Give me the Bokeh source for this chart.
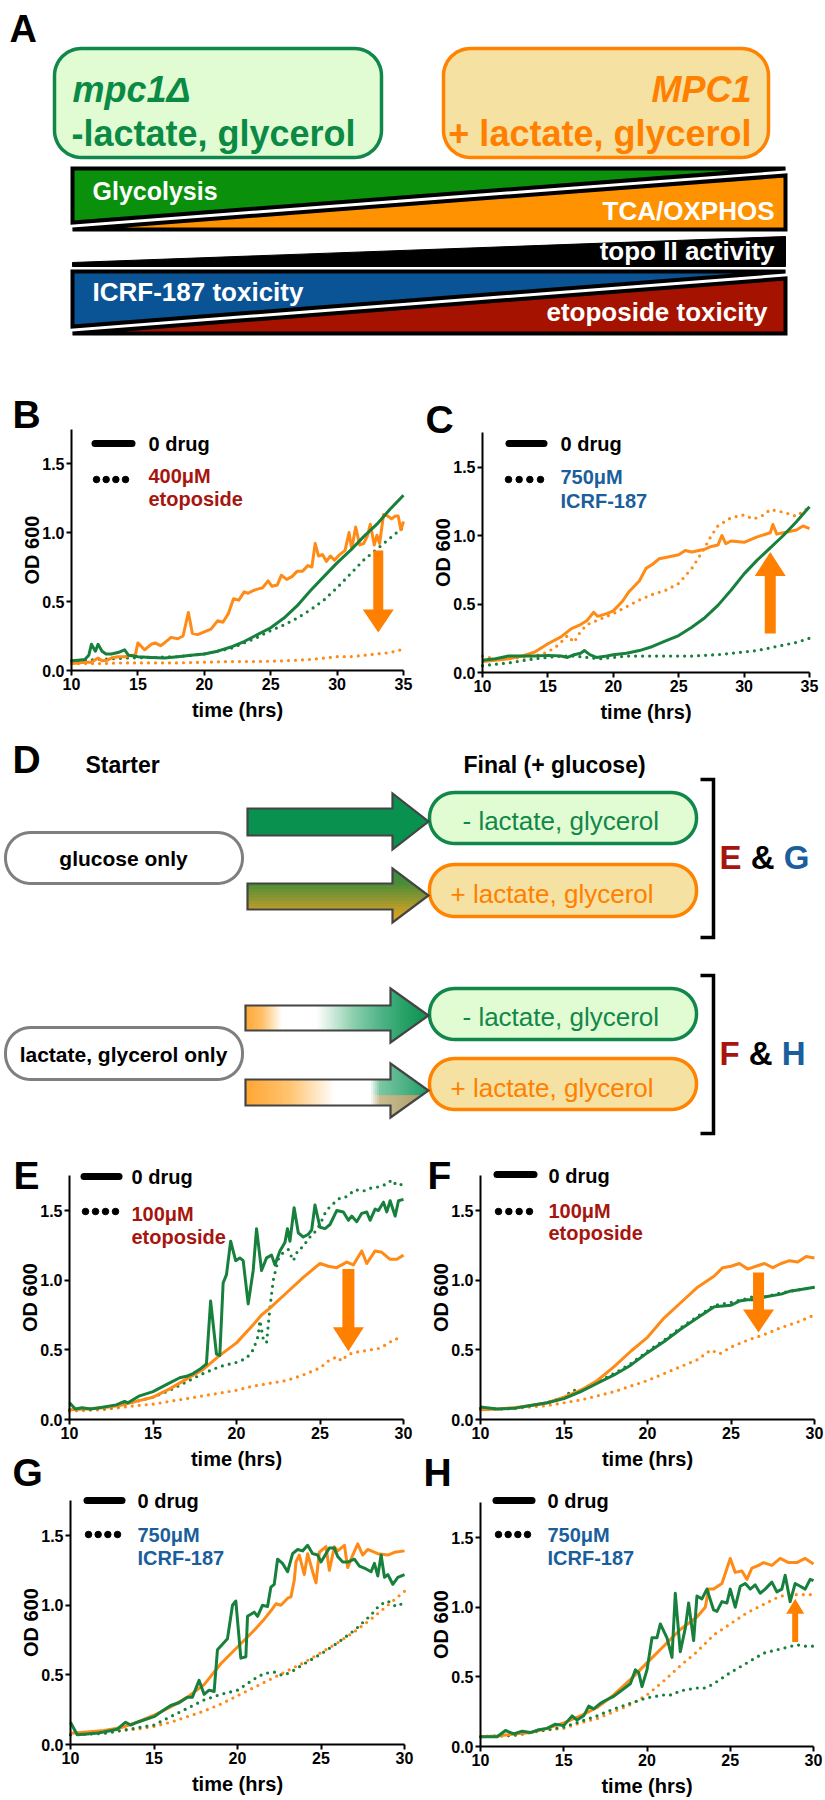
import numpy as np
from bokeh.plotting import figure
from bokeh.models import Range1d, FixedTicker, NumeralTickFormatter, LinearAxis
from bokeh.layouts import column, row
from bokeh.embed import file_html
from bokeh.resources import INLINE
from bokeh.core.properties import value

FONT = "Liberation Sans"
GREEN = "#16803c"
ORANGE = "#ff8a16"
ARROWC = "#ff8000"
DRED = "#a6150e"
DBLUE = "#1a5e9c"
BASE_FIX = 0.33

# ---------------- data (OD600 vs time, hrs) ----------------
# Panel B (400uM etoposide)
B_gs_t = [10, 10.5, 11, 11.3, 11.5, 11.8, 12.0, 12.3, 12.6, 13, 13.5, 14, 14.3, 15, 16, 17, 18, 19, 20, 21, 22, 23, 24, 25, 26, 27, 28, 29, 30, 31, 32, 33, 34, 35]
B_gs_y = [0.07, 0.075, 0.08, 0.11, 0.19, 0.14, 0.19, 0.14, 0.12, 0.12, 0.13, 0.15, 0.11, 0.10, 0.095, 0.09, 0.10, 0.11, 0.12, 0.14, 0.17, 0.21, 0.26, 0.31, 0.38, 0.47, 0.58, 0.68, 0.78, 0.87, 0.97, 1.06, 1.17, 1.27]
B_gd_t = [10, 12, 14, 16, 18, 20, 21, 22, 23, 24, 25, 26, 27, 28, 29, 30, 31, 32, 33, 34, 35]
B_gd_y = [0.07, 0.08, 0.09, 0.095, 0.1, 0.12, 0.14, 0.16, 0.2, 0.24, 0.29, 0.33, 0.38, 0.44, 0.51, 0.60, 0.70, 0.80, 0.88, 0.96, 1.04]
B_os_t = [10, 10.5, 11, 11.5, 12, 12.3, 12.7, 13, 13.5, 14, 14.5, 14.8, 15.0, 15.5, 16.0, 16.3, 16.7, 17.0, 17.5, 18.0, 18.4, 18.8, 19.1, 19.5, 20.0, 20.5, 21.0, 21.4, 21.8, 22.2, 22.6, 23.0, 23.3, 23.7, 24.0, 24.4, 24.8, 25.1, 25.5, 25.8, 26.2, 26.6, 27.0, 27.4, 27.8, 28.1, 28.35, 28.6, 28.9, 29.2, 29.5, 29.8, 30.2, 30.6, 30.9, 31.1, 31.4, 31.7, 32.0, 32.3, 32.5, 32.8, 33.0, 33.2, 33.5, 33.8, 34.1, 34.4, 34.6, 34.8, 35.0]
B_os_y = [0.05, 0.055, 0.06, 0.06, 0.09, 0.07, 0.075, 0.09, 0.1, 0.1, 0.11, 0.11, 0.2, 0.15, 0.19, 0.2, 0.18, 0.2, 0.24, 0.23, 0.25, 0.42, 0.27, 0.26, 0.28, 0.3, 0.36, 0.35, 0.41, 0.52, 0.51, 0.57, 0.56, 0.58, 0.59, 0.6, 0.65, 0.61, 0.62, 0.69, 0.66, 0.68, 0.72, 0.72, 0.76, 0.75, 0.92, 0.83, 0.84, 0.79, 0.83, 0.80, 0.84, 0.87, 1.0, 0.88, 1.04, 0.91, 0.92, 0.98, 1.06, 0.91, 0.98, 0.92, 1.13, 1.12, 1.10, 1.12, 1.12, 1.02, 1.08]
B_od_t = [10, 12, 14, 16, 18, 20, 22, 24, 26, 27, 28, 29, 30, 31, 32, 33, 34, 35]
B_od_y = [0.05, 0.05, 0.055, 0.055, 0.055, 0.06, 0.065, 0.065, 0.07, 0.075, 0.08, 0.09, 0.1, 0.1, 0.11, 0.12, 0.13, 0.155]

# Panel C (750uM ICRF-187)
C_gs_t = [10, 11, 12, 13, 14, 15, 16, 16.5, 17, 17.5, 17.8, 18.2, 18.7, 19.5, 20, 21, 22, 23, 24, 25, 26, 27, 28, 29, 30, 31, 32, 33, 34, 35]
C_gs_y = [0.09, 0.1, 0.12, 0.12, 0.12, 0.125, 0.12, 0.11, 0.13, 0.14, 0.16, 0.13, 0.11, 0.12, 0.13, 0.14, 0.16, 0.19, 0.23, 0.27, 0.33, 0.40, 0.49, 0.60, 0.72, 0.82, 0.91, 1.0, 1.1, 1.21]
C_gd_t = [10, 11, 12, 13, 14, 15, 16, 17, 18, 19, 20, 21, 22, 24, 26, 28, 30, 31, 32, 33, 34, 35]
C_gd_y = [0.05, 0.06, 0.07, 0.085, 0.1, 0.11, 0.12, 0.12, 0.11, 0.1, 0.11, 0.12, 0.12, 0.12, 0.12, 0.13, 0.15, 0.16, 0.18, 0.2, 0.22, 0.25]
C_os_t = [10, 11, 12, 13, 14, 15, 16, 16.8, 17.5, 18, 18.5, 18.8, 19.5, 20, 20.7, 21.2, 22, 22.5, 23, 23.5, 24, 25, 25.5, 26, 27, 27.5, 28, 28.3, 28.6, 29, 30, 31, 32, 32.2, 32.5, 33, 34, 34.5, 35]
C_os_y = [0.08, 0.09, 0.1, 0.12, 0.15, 0.21, 0.26, 0.32, 0.35, 0.38, 0.44, 0.41, 0.43, 0.45, 0.52, 0.59, 0.67, 0.76, 0.79, 0.83, 0.84, 0.86, 0.89, 0.88, 0.9, 0.92, 0.93, 1.0, 0.94, 0.96, 0.95, 0.99, 1.02, 1.08, 1.01, 1.02, 1.04, 1.07, 1.05]
C_od_t = [10, 11, 12, 13, 14, 15, 15.8, 16.5, 17, 17.5, 18, 19, 20, 21, 22, 23, 24, 25, 26, 26.8, 27.5, 28, 29, 30, 30.7, 31.5, 32, 33, 34, 35]
C_od_y = [0.12, 0.1, 0.1, 0.11, 0.12, 0.15, 0.2, 0.27, 0.22, 0.3, 0.35, 0.39, 0.43, 0.48, 0.53, 0.57, 0.6, 0.65, 0.76, 0.88, 1.0, 1.07, 1.13, 1.15, 1.12, 1.15, 1.19, 1.17, 1.14, 1.21]

# Panel E (100uM etoposide, glucose-only starter)
E_gs_t = [10, 10.35, 10.75, 11.25, 11.8, 12.8, 13.3, 13.5, 14.2, 15, 15.8, 16.6, 17, 17.4, 17.8, 18.2, 18.45, 18.8, 19.0, 19.2, 19.4, 19.65, 19.95, 20.2, 20.4, 20.7, 21.0, 21.2, 21.5, 21.8, 22.1, 22.3, 22.6, 22.9, 23.05, 23.2, 23.45, 23.7, 24.0, 24.3, 24.5, 24.7, 25.0, 25.3, 25.6, 26.0, 26.4, 26.7, 26.9, 27.2, 27.5, 27.8, 28.0, 28.3, 28.5, 28.8, 29.0, 29.2, 29.5, 29.7, 30.0]
E_gs_y = [0.12, 0.075, 0.085, 0.075, 0.085, 0.105, 0.13, 0.12, 0.17, 0.2, 0.25, 0.3, 0.31, 0.33, 0.36, 0.4, 0.85, 0.47, 0.46, 0.98, 1.04, 1.28, 1.14, 1.16, 1.14, 0.83, 1.07, 1.37, 1.07, 1.16, 1.18, 1.11, 1.21, 1.27, 1.37, 1.28, 1.52, 1.34, 1.31, 1.33, 1.36, 1.54, 1.38, 1.37, 1.40, 1.5, 1.49, 1.43, 1.46, 1.42, 1.48, 1.49, 1.43, 1.51, 1.50, 1.56, 1.49, 1.57, 1.46, 1.57, 1.58]
E_gd_t = [10, 11, 12, 13, 14, 15, 16, 17, 18, 19, 20, 20.6, 21.0, 21.3, 21.4, 21.6, 21.8, 22.0, 22.2, 22.5, 22.8, 23.1, 23.4, 23.7, 24.0, 24.3, 24.6, 25.0, 25.3, 25.6, 26.2, 26.6, 27.1, 27.6, 28.0, 28.5, 29.0, 29.3, 29.6, 30]
E_gd_y = [0.07, 0.075, 0.08, 0.1, 0.13, 0.16, 0.21, 0.27, 0.33, 0.38, 0.41, 0.44, 0.5, 0.6, 0.71, 0.58, 0.55, 0.8, 1.0, 1.15, 1.2, 1.22, 1.14, 1.22, 1.24, 1.3, 1.33, 1.4, 1.48, 1.53, 1.59, 1.6, 1.65, 1.64, 1.66, 1.67, 1.69, 1.72, 1.68, 1.69]
E_os_t = [10, 11, 12, 13, 14, 15, 16, 17, 18, 19, 20, 21, 21.5, 22, 23, 24, 25, 25.5, 26, 26.6, 27, 27.3, 27.5, 27.8, 28.3, 28.7, 29.2, 29.6, 30]
E_os_y = [0.07, 0.075, 0.085, 0.1, 0.13, 0.16, 0.22, 0.29, 0.36, 0.46, 0.55, 0.68, 0.75, 0.8, 0.91, 1.02, 1.12, 1.1, 1.09, 1.13, 1.11, 1.17, 1.21, 1.12, 1.21, 1.2, 1.15, 1.15, 1.18]
E_od_t = [10, 12, 13, 14, 15, 16, 17, 18, 19, 20, 21, 22, 23, 24, 25, 25.5, 26, 26.3, 26.6, 27, 28, 28.5, 29, 29.5, 30]
E_od_y = [0.06, 0.07, 0.085, 0.1, 0.11, 0.13, 0.15, 0.17, 0.19, 0.21, 0.24, 0.26, 0.28, 0.32, 0.37, 0.42, 0.45, 0.42, 0.46, 0.48, 0.5, 0.51, 0.54, 0.58, 0.57]

# Panel F (100uM etoposide, lactate/glycerol starter)
F_os_t = [10, 11, 12, 13, 14, 15, 16, 17, 18, 19, 20, 21, 22, 23, 24, 24.5, 25, 25.5, 26, 26.5, 27, 27.5, 28, 28.5, 29, 29.5, 30]
F_os_y = [0.07, 0.075, 0.085, 0.1, 0.12, 0.16, 0.21, 0.28, 0.38, 0.49, 0.59, 0.73, 0.84, 0.95, 1.03, 1.09, 1.1, 1.12, 1.08, 1.1, 1.12, 1.09, 1.12, 1.14, 1.13, 1.17, 1.16]
F_gs_t = [10, 11, 12, 13, 14, 15, 16, 17, 18, 19, 20, 21, 22, 23, 24, 25, 25.5, 26, 26.5, 27, 28, 28.5, 29, 30]
F_gs_y = [0.09, 0.075, 0.08, 0.1, 0.12, 0.15, 0.2, 0.26, 0.32, 0.39, 0.48, 0.56, 0.65, 0.73, 0.81, 0.82, 0.85, 0.86, 0.86, 0.88, 0.9, 0.92, 0.93, 0.95]
F_gd_t = [10, 11, 12, 13, 14, 15, 15.5, 16, 17, 18, 19, 20, 21, 22, 23, 24, 25, 26, 26.5, 27, 28, 29, 30]
F_gd_y = [0.08, 0.075, 0.08, 0.1, 0.12, 0.16, 0.21, 0.21, 0.27, 0.33, 0.4, 0.49, 0.57, 0.66, 0.74, 0.82, 0.84, 0.87, 0.89, 0.88, 0.91, 0.93, 0.95]
F_od_t = [10, 12, 14, 15, 16, 17, 18, 19, 20, 21, 22, 23, 23.8, 24.3, 25, 26, 27, 28, 29, 30]
F_od_y = [0.07, 0.08, 0.1, 0.12, 0.14, 0.17, 0.2, 0.24, 0.28, 0.33, 0.38, 0.43, 0.5, 0.47, 0.52, 0.57, 0.61, 0.66, 0.7, 0.75]

# Panel G (750uM ICRF-187, glucose-only starter)
G_os_t = [10, 11, 12, 13, 14, 15, 16, 17, 18, 19, 20, 21, 21.6, 22, 22.3, 22.6, 23.0, 23.2, 23.4, 23.5, 23.7, 24.0, 24.2, 24.5, 24.7, 24.9, 25.3, 25.5, 25.8, 26.0, 26.4, 26.6, 26.9, 27.2, 27.5, 27.8, 28.4, 29.0, 29.4, 30.0]
G_os_y = [0.08, 0.09, 0.1, 0.12, 0.16, 0.21, 0.27, 0.34, 0.43, 0.58, 0.7, 0.82, 0.9, 0.96, 1.01, 1.0, 1.05, 1.06, 1.18, 1.31, 1.36, 1.22, 1.37, 1.24, 1.16, 1.38, 1.42, 1.25, 1.42, 1.39, 1.43, 1.27, 1.36, 1.44, 1.36, 1.40, 1.37, 1.36, 1.38, 1.39]
G_gs_t = [10, 10.4, 11, 11.5, 12, 12.8, 13.3, 13.6, 14, 15, 15.5, 16, 16.5, 17, 17.3, 17.7, 18, 18.3, 18.6, 18.8, 19.1, 19.4, 19.7, 19.9, 20.2, 20.5, 20.6, 21.0, 21.2, 21.5, 21.8, 22.0, 22.2, 22.4, 22.7, 23.0, 23.3, 23.6, 23.9, 24.2, 24.5, 24.8, 25.0, 25.2, 25.5, 25.8, 26.0, 26.3, 26.6, 27.0, 27.3, 27.7, 28.0, 28.2, 28.4, 28.6, 28.8, 29.0, 29.3, 29.6, 30.0]
G_gs_y = [0.16, 0.07, 0.075, 0.08, 0.09, 0.11, 0.16, 0.14, 0.16, 0.2, 0.24, 0.28, 0.3, 0.34, 0.34, 0.46, 0.36, 0.39, 0.38, 0.68, 0.72, 0.76, 1.0, 1.03, 0.62, 0.63, 0.92, 0.95, 0.92, 1.0, 0.99, 1.13, 1.15, 1.33, 1.3, 1.24, 1.37, 1.4, 1.39, 1.43, 1.37, 1.36, 1.31, 1.35, 1.41, 1.41, 1.35, 1.31, 1.31, 1.33, 1.28, 1.26, 1.24, 1.3, 1.21, 1.36, 1.2, 1.22, 1.15, 1.2, 1.22]
G_gd_t = [10, 11, 12, 13, 14, 15, 16, 17, 18, 19, 20, 21, 21.6, 22.2, 22.7, 23.2, 24, 25, 26, 27, 28, 28.5, 29, 29.5, 30]
G_gd_y = [0.07, 0.075, 0.08, 0.1, 0.12, 0.14, 0.2, 0.26, 0.32, 0.36, 0.39, 0.47, 0.51, 0.52, 0.495, 0.52, 0.58, 0.65, 0.73, 0.82, 0.93, 1.0, 1.03, 0.99, 1.02]
G_od_t = [10, 12, 13, 14, 15, 16, 17, 18, 19, 20, 21, 22, 23, 24, 25, 26, 27, 28, 29, 30]
G_od_y = [0.07, 0.08, 0.1, 0.11, 0.13, 0.16, 0.2, 0.24, 0.29, 0.35, 0.41, 0.47, 0.53, 0.59, 0.66, 0.73, 0.81, 0.9, 1.0, 1.1]

# Panel H (750uM ICRF-187, lactate/glycerol starter)
H_os_t = [10, 11, 12, 13, 14, 15, 16, 17, 18, 19, 20, 21, 22, 23, 23.5, 23.7, 24, 24.5, 25, 25.3, 25.7, 26, 26.3, 26.7, 27, 27.5, 28, 28.5, 29, 29.5, 30]
H_os_y = [0.07, 0.075, 0.09, 0.1, 0.13, 0.17, 0.22, 0.28, 0.37, 0.48, 0.6, 0.72, 0.84, 0.93, 1.0, 1.13, 1.13, 1.17, 1.35, 1.25, 1.26, 1.2, 1.28, 1.3, 1.32, 1.3, 1.35, 1.32, 1.32, 1.35, 1.31]
H_gs_t = [10, 11, 11.5, 12, 12.5, 13, 13.5, 14, 14.5, 15, 15.5, 15.8, 16.2, 16.5, 16.8, 17.2, 17.5, 18, 19, 19.3, 19.5, 19.7, 20, 20.3, 20.6, 20.8, 21.2, 21.5, 21.7, 22, 22.3, 22.5, 22.8, 23, 23.3, 23.6, 24, 24.2, 24.5, 24.8, 25, 25.3, 25.6, 25.9, 26.2, 26.5, 26.8, 27.1, 27.5, 27.8, 28.1, 28.3, 28.6, 28.9, 29.2, 29.5, 29.8, 30]
H_gs_y = [0.07, 0.07, 0.115, 0.09, 0.11, 0.1, 0.12, 0.13, 0.16, 0.15, 0.22, 0.19, 0.22, 0.29, 0.27, 0.31, 0.33, 0.36, 0.45, 0.55, 0.53, 0.43, 0.55, 0.78, 0.78, 0.88, 0.78, 0.64, 1.1, 0.68, 0.85, 1.03, 0.76, 1.08, 1.06, 1.13, 0.98, 0.97, 1.04, 1.03, 1.13, 1.0, 1.15, 1.17, 1.13, 1.16, 1.1, 1.13, 1.18, 1.11, 1.13, 1.23, 1.04, 1.17, 1.15, 1.13, 1.2, 1.19]
H_gd_t = [10, 12, 13, 14, 15, 16, 17, 18, 19, 20, 20.5, 21, 21.5, 22, 22.5, 23, 23.5, 24, 25, 26, 27, 28, 29, 29.5, 30]
H_gd_y = [0.07, 0.08, 0.1, 0.12, 0.14, 0.18, 0.22, 0.27, 0.31, 0.35, 0.36, 0.37, 0.37, 0.4, 0.41, 0.42, 0.42, 0.45, 0.53, 0.6, 0.67, 0.7, 0.73, 0.72, 0.72]
H_od_t = [10, 12, 13, 14, 15, 16, 17, 18, 19, 20, 21, 22, 23, 24, 25, 26, 27, 28, 29, 30]
H_od_y = [0.07, 0.08, 0.1, 0.12, 0.13, 0.17, 0.2, 0.25, 0.3, 0.37, 0.47, 0.58, 0.68, 0.8, 0.88, 0.96, 1.02, 1.08, 1.09, 1.09]

Y_TICKS = [0, 0.5, 1.0, 1.5]
X_TICKS_35 = [10, 15, 20, 25, 30, 35]
X_TICKS_30 = [10, 15, 20, 25, 30]

# arrows: (x, tail, tip) in data units
B_arrow = (33.1, 0.87, 0.275)
C_arrow = (32.0, 0.285, 0.88)
E_arrow = (26.7, 1.08, 0.49)
F_arrow = (26.65, 1.055, 0.625)
H_arrow = (28.9, 0.75, 1.06)


# ---------------- helpers ----------------
def txt_raw(p, x, y, s, size, color="black", style="bold", align="left", font=FONT):
    p.text(x=[x], y=[y], text=[s], text_font=value(font), text_font_size=f"{size}px",
           text_font_style=style, text_color=color, text_align=align, text_baseline="alphabetic")


def txt(p, x, y, s, size, **kw):
    # canvas figures: y grows downward; y is the desired baseline
    txt_raw(p, x, y - BASE_FIX * size, s, size, **kw)


def canvas(w, h, top, left=0):
    p = figure(width=w, height=h, x_range=Range1d(left, left + w), y_range=Range1d(top + h, top),
               x_axis_type=None, y_axis_type=None, output_backend="svg", toolbar_location=None,
               tools="", title=None, min_border=0)
    p.outline_line_color = None
    return p


def rrect(x0, y0, x1, y1, r, n=14):
    xs, ys = [], []
    corners = [(x1 - r, y0 + r, -90, 0), (x1 - r, y1 - r, 0, 90),
               (x0 + r, y1 - r, 90, 180), (x0 + r, y0 + r, 180, 270)]
    for cx, cy, a0, a1 in corners:
        for a in np.linspace(np.radians(a0), np.radians(a1), n):
            xs.append(float(cx + r * np.cos(a)))
            ys.append(float(cy + r * np.sin(a)))
    return xs, ys


def hex2rgb(h):
    return tuple(int(h[i:i + 2], 16) for i in (1, 3, 5))


def interp(stops, v):
    if v <= stops[0][0]:
        return stops[0][1]
    for (p0, c0), (p1, c1) in zip(stops[:-1], stops[1:]):
        if v <= p1:
            f = (v - p0) / (p1 - p0)
            a, b = hex2rgb(c0), hex2rgb(c1)
            return "#%02x%02x%02x" % tuple(int(round(a[i] + f * (b[i] - a[i]))) for i in range(3))
    return stops[-1][1]


def clip(poly, xmin, xmax, ymin, ymax):
    def edge(pts, inside, inter):
        out = []
        for i in range(len(pts)):
            cur, prev = pts[i], pts[i - 1]
            if inside(cur):
                if not inside(prev):
                    out.append(inter(prev, cur))
                out.append(cur)
            elif inside(prev):
                out.append(inter(prev, cur))
        return out

    def ix(p, q, x):
        t = (x - p[0]) / (q[0] - p[0])
        return (x, p[1] + t * (q[1] - p[1]))

    def iy(p, q, y):
        t = (y - p[1]) / (q[1] - p[1])
        return (p[0] + t * (q[0] - p[0]), y)

    pts = list(poly)
    for inside, inter in [(lambda p: p[0] >= xmin, lambda p, q: ix(p, q, xmin)),
                          (lambda p: p[0] <= xmax, lambda p, q: ix(p, q, xmax)),
                          (lambda p: p[1] >= ymin, lambda p, q: iy(p, q, ymin)),
                          (lambda p: p[1] <= ymax, lambda p, q: iy(p, q, ymax))]:
        if not pts:
            break
        pts = edge(pts, inside, inter)
    return pts


def arrow_poly(x0, xh, xt, yb0, yb1, yh0, yh1):
    yc = (yh0 + yh1) / 2
    return [(x0, yb0), (xh, yb0), (xh, yh0), (xt, yc), (xh, yh1), (xh, yb1), (x0, yb1)]


def grad_arrow(p, poly, colfun, xstep, ybands):
    xs_all, ys_all, cols = [], [], []
    xmin = min(q[0] for q in poly)
    xmax = max(q[0] for q in poly)
    xa = xmin
    while xa < xmax:
        xb = min(xa + xstep, xmax)
        for ya, yb in ybands:
            c = clip(poly, xa, xb, ya, yb)
            if len(c) >= 3:
                xs_all.append([float(q[0]) for q in c])
                ys_all.append([float(q[1]) for q in c])
                cols.append(colfun((xa + xb) / 2, (ya + yb) / 2))
        xa = xb
    p.patches(xs_all, ys_all, fill_color=cols, line_color=cols, line_width=0.8)
    p.patch([float(q[0]) for q in poly], [float(q[1]) for q in poly], fill_color=None,
            line_color="#444444", line_width=2.2, line_join="miter")


# ---------------- Panel A ----------------
pA = canvas(825, 380, 0)
txt(pA, 9, 41, "A", 38)
gx, gy = rrect(54, 48, 381, 157, 27)
pA.patch(gx, gy, fill_color="#e1fcd2", line_color="#11874b", line_width=3.5)
ox, oy = rrect(443, 48, 768, 157, 27)
pA.patch(ox, oy, fill_color="#f5e1a1", line_color="#ff8200", line_width=3.5)
txt(pA, 72, 101, "mpc1\u0394", 36, color="#0b8a45", style="bold italic")
txt(pA, 71, 145, "-lactate, glycerol", 36, color="#0b8a45")
txt(pA, 751, 101, "MPC1", 36, color="#ff8000", style="bold italic", align="right")
txt(pA, 751, 145, "+ lactate, glycerol", 36, color="#ff8000", align="right")

BX0, BX1 = 72, 785


def band(p, t, b, c_up, c_low):
    p.patch([BX0, BX1, BX0], [t, t, b - 7], fill_color=c_up, line_color="black", line_width=4, line_join="miter")
    p.patch([BX1, BX1, BX0], [t + 7, b, b], fill_color=c_low, line_color="black", line_width=4, line_join="miter")


band(pA, 168, 229, "#0a900a", "#ff9200")
pA.patch([BX0, BX1, BX1, BX0], [262, 236, 266, 266], fill_color="black", line_color="black", line_width=1)
band(pA, 271, 333, "#0a5394", "#a51300")
txt(pA, 92, 199, "Glycolysis", 25, color="white")
txt(pA, 774, 219, "TCA/OXPHOS", 26, color="white", align="right")
txt(pA, 774, 259, "topo II activity", 26, color="white", align="right")
txt(pA, 92, 300, "ICRF-187 toxicity", 26, color="white")
txt(pA, 767, 320, "etoposide toxicity", 26, color="white", align="right")


# ---------------- chart helper ----------------
class Chart:
    def __init__(self, w, h, fig_left, fig_top, ax0, ax1, xmax, y0, ppu, xticks):
        self.ax0, self.y0, self.ppu = ax0, y0, ppu
        self.ppx = (ax1 - ax0) / (xmax - 10)
        p = figure(width=w, height=h,
                   x_range=Range1d(self.X(fig_left), self.X(fig_left + w)),
                   y_range=Range1d(self.Y(fig_top + h), self.Y(fig_top)),
                   x_axis_location=None, y_axis_location=None, min_border=0,
                   output_backend="svg", toolbar_location=None, tools="", title=None)
        p.grid.visible = False
        p.outline_line_color = None
        yax = LinearAxis(fixed_location=10, bounds=(0, 1.75), ticker=FixedTicker(ticks=Y_TICKS),
                         formatter=NumeralTickFormatter(format="0.0"), axis_label="OD 600")
        xax = LinearAxis(fixed_location=0, bounds=(10, xmax), ticker=FixedTicker(ticks=xticks),
                         axis_label="time (hrs)")
        for ax in (xax, yax):
            ax.axis_line_width = 2
            ax.major_tick_line_width = 2
            ax.major_tick_out = 5
            ax.major_tick_in = 0
            ax.minor_tick_line_color = None
            ax.major_label_text_font = FONT
            ax.major_label_text_font_style = "bold"
            ax.major_label_text_font_size = "16px"
            ax.major_label_text_color = "black"
            ax.axis_label_text_font = FONT
            ax.axis_label_text_font_style = "bold"
            ax.axis_label_text_font_size = "20px"
            ax.axis_label_text_color = "black"
            ax.major_label_standoff = 2
        xax.axis_label_standoff = 6
        yax.axis_label_standoff = -4
        p.add_layout(yax, "left")
        p.add_layout(xax, "below")
        self.p = p

    def X(self, px):
        return 10 + (px - self.ax0) / self.ppx

    def Y(self, py):
        return (self.y0 - py) / self.ppu

    def text(self, px, py, s, size, **kw):
        txt_raw(self.p, self.X(px), self.Y(py - BASE_FIX * size), s, size, **kw)

    def series(self, os_, od_, gs_, gd_):
        p = self.p
        p.line(od_[0], od_[1], line_width=3.2, line_dash="0 7", line_cap="round", color=ORANGE)
        p.line(gd_[0], gd_[1], line_width=3.2, line_dash="0 7", line_cap="round", color=GREEN)
        p.line(os_[0], os_[1], line_width=3, line_join="round", color=ORANGE)
        p.line(gs_[0], gs_[1], line_width=3, line_join="round", color=GREEN)

    def legend(self, lx0, lx1, ly, tx, b0, dx0, dx1, dy, drug, dcol, b1, b2):
        X, Y, p = self.X, self.Y, self.p
        p.line([X(lx0 + 3.5), X(lx1 - 3.5)], [Y(ly), Y(ly)], line_width=7, line_cap="round", color="black")
        d = np.linspace(dx0 + 3, dx1 - 3, 4)
        p.scatter([X(v) for v in d], [Y(dy)] * 4, size=6.5, color="black")
        self.text(tx, b0, "0 drug", 20)
        self.text(tx, b1, drug[0], 20, color=dcol)
        self.text(tx, b2, drug[1], 20, color=dcol)

    def arrow(self, a, shaft_w, head_w, head_len):
        x, tail, tip = a
        d = 1 if tip > tail else -1
        hb = tip - d * head_len / self.ppu
        hw = shaft_w / 2 / self.ppx
        hh = head_w / 2 / self.ppx
        self.p.patch([x - hw, x - hw, x - hh, x, x + hh, x + hw, x + hw],
                     [tail, hb, hb, tip, hb, hb, tail], fill_color=ARROWC, line_color=None)

    def letter(self, px, py, s):
        self.text(px, py, s, 39)


# ---------------- B / C ----------------
cB = Chart(423, 362, 0, 380, 71, 403, 35, 670, 138, X_TICKS_35)
cB.series((B_os_t, B_os_y), (B_od_t, B_od_y), (B_gs_t, B_gs_y), (B_gd_t, B_gd_y))
cB.legend(91, 135, 443, 148, 450, 93, 128, 479, ("400\u03bcM", "etoposide"), DRED, 482, 505)
cB.arrow(B_arrow, 10, 31, 23)
cB.letter(12, 427, "B")

cC = Chart(402, 362, 423, 380, 482, 809, 35, 672, 137, X_TICKS_35)
cC.series((C_os_t, C_os_y), (C_od_t, C_od_y), (C_gs_t, C_gs_y), (C_gd_t, C_gd_y))
cC.legend(505, 547, 443, 560, 450, 505, 543, 479, ("750\u03bcM", "ICRF-187"), DBLUE, 483, 507)
cC.arrow(C_arrow, 11, 31, 24)
cC.letter(425, 432, "C")

# ---------------- Panel D ----------------
pD = canvas(825, 408, 742)
txt(pD, 12, 772, "D", 39)
txt(pD, 85, 772, "Starter", 23)
txt(pD, 463, 772, "Final (+ glucose)", 23)
for (y0, y1, s, base) in [(832, 883, "glucose only", 865), (1027, 1079, "lactate, glycerol only", 1061)]:
    xs, ys = rrect(5, y0, 242, y1, 25)
    pD.patch(xs, ys, fill_color="white", line_color="#7f7f7f", line_width=3)
    txt(pD, 123, base, s, 21, align="center")
for (y0, y1, kind, base) in [(792, 843, "g", 829), (864, 916, "o", 902), (988, 1039, "g", 1025), (1058, 1109, "o", 1096)]:
    xs, ys = rrect(429, y0, 696, y1, 25)
    if kind == "g":
        pD.patch(xs, ys, fill_color="#e1fcd2", line_color="#11874b", line_width=3.5)
        txt(pD, 462, base, "- lactate, glycerol", 26, color="#11874b", style="normal")
    else:
        pD.patch(xs, ys, fill_color="#f5e1a1", line_color="#ff8200", line_width=3.5)
        txt(pD, 450, base, "+ lactate, glycerol", 26, color="#ff7f00", style="normal")

a1 = arrow_poly(247, 392, 428, 808, 835, 793, 849)
pD.patch([q[0] for q in a1], [q[1] for q in a1], fill_color="#08914f", line_color="#444444", line_width=2.2, line_join="miter")

a2 = arrow_poly(247, 392, 428, 883, 909, 868, 922)
stops2 = [(868, "#2f8f45"), (883, "#4a8c38"), (909, "#bb9d2a"), (922, "#e6a51f")]
grad_arrow(pD, a2, lambda x, y: interp(stops2, y), 200, [(y, y + 1.5) for y in np.arange(868, 922, 1.5)])

a3 = arrow_poly(245, 390, 428, 1005, 1030, 988, 1042)
stops3 = [(245, "#ffa735"), (262, "#ffbf66"), (282, "#ffffff"), (316, "#ffffff"), (332, "#cfeadc"),
          (352, "#8fd0b0"), (380, "#4fb487"), (405, "#25a066"), (428, "#0b9150")]
grad_arrow(pD, a3, lambda x, y: interp(stops3, x), 2, [(985, 1045)])

a4 = arrow_poly(245, 390, 428, 1079, 1105, 1063, 1117)
stops4 = [(245, "#ffa530"), (290, "#ffc471"), (335, "#ffffff"), (370, "#ffffff"), (380, "#7cc6a2"), (428, "#1f9d68")]
stops4b = [(370, "#ffffff"), (380, "#c9bc90"), (428, "#a89a62")]


def col4(x, y):
    if y > 1095 and x > 370:
        return interp(stops4b, x)
    return interp(stops4, x)


grad_arrow(pD, a4, col4, 2, [(1060, 1095), (1095, 1120)])

for yt, yb in [(779, 937), (975, 1133)]:
    pD.line([700, 713, 713, 700], [yt, yt, yb, yb], line_width=3.5, color="black", line_join="miter")

for base, l1, l2 in [(868, "E", "G"), (1064, "F", "H")]:
    w1 = (0.667 if l1 == "E" else 0.611) * 33
    txt(pD, 719, base, l1, 33, color=DRED)
    xa = 719 + w1 + 0.278 * 33
    txt(pD, xa, base, "&", 33)
    txt(pD, xa + 0.722 * 33 + 0.278 * 33, base, l2, 33, color=DBLUE)

# ---------------- E / F ----------------
cE = Chart(421, 338, 0, 1150, 69, 403, 30, 1419, 139.3, X_TICKS_30)
cE.series((E_os_t, E_os_y), (E_od_t, E_od_y), (E_gs_t, E_gs_y), (E_gd_t, E_gd_y))
cE.legend(80, 122, 1176, 131, 1183, 82, 118, 1211, ("100\u03bcM", "etoposide"), DRED, 1220, 1243)
cE.arrow(E_arrow, 12, 31, 24)
cE.letter(13, 1188, "E")
cE.letter(12, 1485, "G")

cF = Chart(404, 338, 421, 1150, 480, 814, 30, 1419, 139.3, X_TICKS_30)
cF.series((F_os_t, F_os_y), (F_od_t, F_od_y), (F_gs_t, F_gs_y), (F_gd_t, F_gd_y))
cF.legend(493, 537, 1174, 548, 1182, 495, 532, 1211, ("100\u03bcM", "etoposide"), DRED, 1217, 1239)
cF.arrow(F_arrow, 11, 31, 23)
cF.letter(427, 1188, "F")
cF.letter(423, 1485, "H")

# ---------------- G / H ----------------
cG = Chart(421, 312, 0, 1488, 70, 404, 30, 1744, 139.3, X_TICKS_30)
cG.series((G_os_t, G_os_y), (G_od_t, G_od_y), (G_gs_t, G_gs_y), (G_gd_t, G_gd_y))
cG.legend(83, 125, 1500, 137, 1507, 85, 120, 1534, ("750\u03bcM", "ICRF-187"), DBLUE, 1541, 1564)

cH = Chart(404, 312, 421, 1488, 480, 813, 30, 1746, 139.3, X_TICKS_30)
cH.series((H_os_t, H_os_y), (H_od_t, H_od_y), (H_gs_t, H_gs_y), (H_gd_t, H_gd_y))
cH.legend(492, 535, 1500, 547, 1507, 495, 530, 1534, ("750\u03bcM", "ICRF-187"), DBLUE, 1541, 1564)
cH.arrow(H_arrow, 6, 18, 15)

layout = column(pA, row(cB.p, cC.p), pD, row(cE.p, cF.p), row(cG.p, cH.p))
open("out.html", "w").write(file_html(layout, INLINE))
